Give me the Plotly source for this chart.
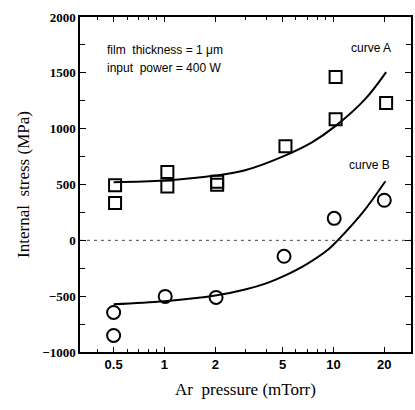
import plotly.graph_objects as go

sq_p = [0.51, 0.51, 1.04, 1.04, 2.05, 2.05, 5.2, 10.3, 10.3, 20.5]
sq_s = [493, 335, 612, 483, 525, 497, 843, 1462, 1085, 1229]

ci_p = [0.5, 0.5, 1.01, 2.02, 5.1, 10.1, 20.0]
ci_s = [-646, -852, -502, -511, -143, 197, 359]

# Fitted curves
curveA_p = [0.5, 1.0, 2.0, 3.0, 5.0, 7.5, 10.3, 15.4, 20.5]
curveA_s = [520, 535, 580, 628, 750, 880, 1025, 1265, 1507]

curveB_p = [0.5, 1.0, 2.0, 3.0, 4.0, 5.0, 7.0, 9.35, 10.6, 15.0, 20.3]
curveB_s = [-572, -545, -495, -440, -385, -325, -210, -80, 0, 255, 529]

x_ticks = [0.5, 1, 2, 5, 10, 20]
x_ticklabels = ["0.5", "1", "2", "5", "10", "20"]
x_minor = [0.4, 0.6, 0.7, 0.8, 0.9, 3, 4, 6, 7, 8, 9]
y_ticks = [-1000, -500, 0, 500, 1000, 1500, 2000]

fig = go.Figure()

fig.add_trace(go.Scatter(x=[0.316, 28.8], y=[0, 0], mode="lines",
                         line=dict(color="#444", width=1, dash="3px,4px"),
                         hoverinfo="skip", showlegend=False))

fig.add_trace(go.Scatter(x=curveA_p, y=curveA_s, mode="lines",
                         line=dict(color="black", width=2, shape="spline", smoothing=1),
                         showlegend=False))
fig.add_trace(go.Scatter(x=curveB_p, y=curveB_s, mode="lines",
                         line=dict(color="black", width=2, shape="spline", smoothing=1),
                         showlegend=False))

fig.add_trace(go.Scatter(x=sq_p, y=sq_s, mode="markers",
                         marker=dict(symbol="square-open", size=12, color="black",
                                     line=dict(width=2, color="black")),
                         showlegend=False))
fig.add_trace(go.Scatter(x=ci_p, y=ci_s, mode="markers",
                         marker=dict(symbol="circle-open", size=13, color="black",
                                     line=dict(width=2, color="black")),
                         showlegend=False))

L, R, T, B = 80, 2, 17, 58
W, H = 415, 410
pw, ph = W - L - R, H - T - B


def px(x):
    return (x - L) / pw


def py(y):
    return 1 - (y - T) / ph


ann_font = dict(family="Liberation Sans, Arial", size=12, color="black")
fig.add_annotation(text="film  thickness = 1 μm", x=px(105), y=py(50),
                   xref="paper", yref="paper", showarrow=False, font=ann_font,
                   xanchor="left", yanchor="middle")
fig.add_annotation(text="input  power = 400 W", x=px(105), y=py(68),
                   xref="paper", yref="paper", showarrow=False, font=ann_font,
                   xanchor="left", yanchor="middle")
fig.add_annotation(text="curve A", x=px(395), y=py(48),
                   xref="paper", yref="paper", showarrow=False, font=ann_font,
                   xanchor="right", yanchor="middle")
fig.add_annotation(text="curve B", x=px(394), y=py(165),
                   xref="paper", yref="paper", showarrow=False, font=ann_font,
                   xanchor="right", yanchor="middle")

fig.update_layout(
    width=W, height=H,
    margin=dict(l=L, r=R, t=T, b=B),
    plot_bgcolor="white", paper_bgcolor="white",
    showlegend=False,
    xaxis=dict(
        type="log", range=[-0.5, 1.459],
        tickmode="array", tickvals=x_ticks, ticktext=x_ticklabels,
        ticks="inside", ticklen=5, tickwidth=1.2, tickcolor="black",
        minor=dict(tickmode="array", tickvals=x_minor, ticks="inside", ticklen=3,
                   tickwidth=1, tickcolor="black", showgrid=False),
        showline=True, linecolor="black", linewidth=1.5, mirror="ticks",
        showgrid=False, zeroline=False,
        tickfont=dict(family="Liberation Sans, Arial", size=13, color="black", weight="bold"),
        title=dict(text="Ar  pressure (mTorr)", standoff=12,
                   font=dict(family="Liberation Serif, Times New Roman", size=17, color="black")),
    ),
    yaxis=dict(
        range=[-1000, 2000],
        tickmode="array", tickvals=y_ticks,
        ticks="inside", ticklen=6, tickwidth=1.2, tickcolor="black",
        minor=dict(dtick=250, ticks="inside", ticklen=5, tickwidth=1, tickcolor="black",
                   showgrid=False),
        showline=True, linecolor="black", linewidth=1.5, mirror="ticks",
        showgrid=False, zeroline=False,
        tickfont=dict(family="Liberation Serif, Times New Roman", size=13, color="black", weight="bold"),
        title=dict(text="Internal  stress (MPa)", standoff=8,
                   font=dict(family="Liberation Serif, Times New Roman", size=17, color="black")),
    ),
)

fig.write_html("out.html", config={"displayModeBar": False},
               post_script="document.body.style.margin='0';document.body.style.overflow='hidden';")
